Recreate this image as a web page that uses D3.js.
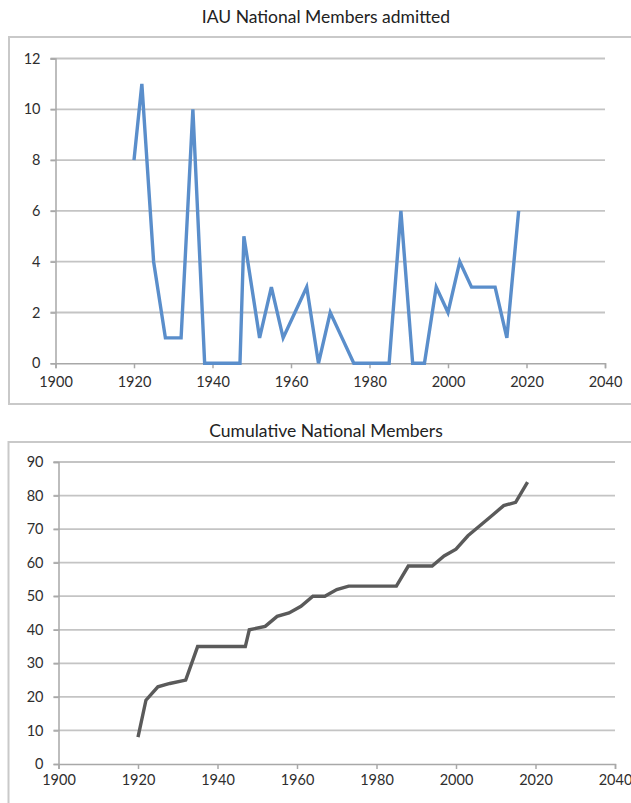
<!DOCTYPE html>
<html>
<head>
<meta charset="utf-8">
<script src="https://cdn.jsdelivr.net/npm/d3@7"></script>
<style>
  html, body { margin: 0; padding: 0; background: #fff; }
  svg { display: block; }
  text { font-family: Lato, "Open Sans", sans-serif; fill: #333; }
</style>
</head>
<body>
<script>
// IAU General Assembly years and national members admitted at each
const years = [1920, 1922, 1925, 1928, 1932, 1935, 1938, 1947, 1948, 1952, 1955, 1958,
  1961, 1964, 1967, 1970, 1973, 1976, 1979, 1982, 1985, 1988, 1991, 1994,
  1997, 2000, 2003, 2006, 2009, 2012, 2015, 2018];
const admitted = [8, 11, 4, 1, 1, 10, 0, 0, 5, 1, 3, 1,
  2, 3, 0, 2, 1, 0, 0, 0, 0, 6, 0, 0,
  3, 2, 4, 3, 3, 3, 1, 6];
const cumulative = [8, 19, 23, 24, 25, 35, 35, 35, 40, 41, 44, 45,
  47, 50, 50, 52, 53, 53, 53, 53, 53, 59, 59, 59,
  62, 64, 68, 71, 74, 77, 78, 84];

const xTicks = [1900, 1920, 1940, 1960, 1980, 2000, 2020, 2040];
const admittedTicks = [0, 2, 4, 6, 8, 10, 12];
const cumulativeTicks = [0, 10, 20, 30, 40, 50, 60, 70, 80, 90];

const W = 631, H = 803;
const svg = d3.select("body").append("svg").attr("width", W).attr("height", H);
svg.append("rect").attr("width", W).attr("height", H).attr("fill", "#fff");

function panel(opts) {
  const g = svg.append("g");
  // chart frame
  g.append("rect")
    .attr("x", opts.box[0]).attr("y", opts.box[1])
    .attr("width", opts.box[2]).attr("height", opts.box[3])
    .attr("fill", "#fff").attr("stroke", "#c9c9c9").attr("stroke-width", 2);

  g.append("text")
    .attr("x", opts.titleX).attr("y", opts.titleY)
    .attr("text-anchor", "middle")
    .attr("font-size", 17.5)
    .style("fill", "#222")
    .text(opts.title);

  const x = d3.scaleLinear().domain([1900, 2040]).range(opts.xRange);
  const y = d3.scaleLinear().domain(opts.yDomain).range(opts.yRange);

  // horizontal gridlines
  g.append("g").selectAll("line").data(opts.yTicks.filter(d => d !== 0)).join("line")
    .attr("x1", opts.xRange[0] - 5).attr("x2", opts.xRange[1])
    .attr("y1", d => y(d)).attr("y2", d => y(d))
    .attr("stroke", "#c4c4c4").attr("stroke-width", 1.8);

  const yAxis = g.append("g")
    .attr("transform", `translate(${opts.xRange[0]},0)`)
    .call(d3.axisLeft(y).tickValues(opts.yTicks).tickSize(5).tickPadding(10).tickFormat(d3.format("d")));
  yAxis.select(".domain").attr("stroke", "#a8a8a8").attr("stroke-width", 1.5);
  yAxis.selectAll(".tick line").attr("stroke", "#a8a8a8").attr("stroke-width", 1.5);
  yAxis.selectAll("text").attr("font-size", 14.5).attr("font-family", "Lato, sans-serif").style("fill", "#2e2e2e");

  const xAxis = g.append("g")
    .attr("transform", `translate(0,${opts.yRange[0]})`)
    .call(d3.axisBottom(x).tickValues(xTicks).tickSize(5).tickPadding(opts.xPad).tickFormat(d3.format("d")));
  xAxis.select(".domain").attr("stroke", "#a8a8a8").attr("stroke-width", 1.5);
  xAxis.selectAll(".tick line").attr("stroke", "#a8a8a8").attr("stroke-width", 1.5);
  xAxis.selectAll("text").attr("font-size", 14.5).attr("font-family", "Lato, sans-serif").style("fill", "#2e2e2e");

  const line = d3.line().x((d, i) => x(years[i])).y(d => y(d));
  g.append("path")
    .datum(opts.values)
    .attr("d", line)
    .attr("fill", "none")
    .attr("stroke", opts.color)
    .attr("stroke-width", 3.4)
    .attr("stroke-linejoin", "miter");
}

panel({
  title: "IAU National Members admitted",
  titleX: 326, titleY: 23,
  box: [9, 37, 640, 367],
  xRange: [55.5, 605],
  yDomain: [0, 12], yRange: [363.3, 58.5],
  yTicks: admittedTicks,
  xPad: 8,
  values: admitted,
  color: "#5a8ecb"
});

panel({
  title: "Cumulative National Members",
  titleX: 326, titleY: 437,
  box: [8.5, 442, 640, 380],
  xRange: [58.5, 615],
  yDomain: [0, 90], yRange: [764, 462],
  yTicks: cumulativeTicks,
  xPad: 6,
  values: cumulative,
  color: "#5a5a5a"
});
</script>
</body>
</html>
